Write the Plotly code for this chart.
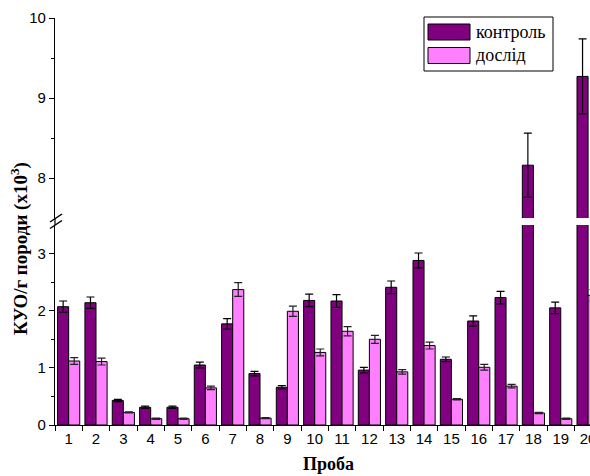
import plotly.graph_objects as go
from plotly.subplots import make_subplots

samples = [str(i) for i in range(1, 21)]
control = [2.07, 2.14, 0.43, 0.31, 0.31, 1.05, 1.77, 0.90, 0.66, 2.18,
           2.17, 0.96, 2.41, 2.88, 1.15, 1.82, 2.23, 8.16, 2.05, 9.27]
control_err = [0.10, 0.10, 0.02, 0.02, 0.02, 0.05, 0.09, 0.04, 0.03, 0.11,
               0.11, 0.05, 0.11, 0.13, 0.04, 0.09, 0.11, 0.40, 0.10, 0.47]
experiment = [1.12, 1.11, 0.22, 0.11, 0.11, 0.65, 2.37, 0.12, 1.99, 1.27,
              1.64, 1.50, 0.93, 1.39, 0.45, 1.01, 0.68, 0.21, 0.11, 2.27]
experiment_err = [0.06, 0.06, 0.01, 0.01, 0.01, 0.03, 0.12, 0.01, 0.09, 0.06,
                  0.08, 0.07, 0.04, 0.06, 0.01, 0.05, 0.03, 0.01, 0.01, 0.10]
series_names = ["контроль", "дослід"]
colors = ["#800080", "#FF80FF"]

W, H = 590, 476
L, R, T, B = 55, 0, 18, 51
PW, PH = W - L - R, H - T - B
PLOT_LEFT, PLOT_BOTTOM = L, H - B


def px2x(px):
    return (px - PLOT_LEFT) / PW


def px2y(py):
    return (PLOT_BOTTOM - py) / PH


fig = make_subplots(rows=2, cols=1, shared_xaxes=True)

for row in (1, 2):
    for vals, errs, name, col, ecol in [
        (control, control_err, series_names[0], colors[0], "#000000"),
        (experiment, experiment_err, series_names[1], colors[1], "#222222"),
    ]:
        fig.add_trace(go.Bar(
            x=samples, y=vals, name=name, showlegend=False,
            marker=dict(color=col, line=dict(color="#000000", width=1)),
            error_y=dict(type="data", array=errs, visible=True, color=ecol,
                         thickness=1.2, width=4),
        ), row=row, col=1)

tickfont = dict(family="Liberation Sans, Arial", size=15, color="#000")
fig.update_layout(
    width=W, height=H, margin=dict(l=L, r=R, t=T, b=B, autoexpand=False),
    plot_bgcolor="white", paper_bgcolor="white",
    barmode="group", bargap=0.19, bargroupgap=0.0,
    showlegend=False,
)
fig.update_layout(
    yaxis=dict(domain=[px2y(218), 1.0], range=[7.5, 10], tickvals=[8, 9, 10],
               ticks="outside", ticklen=5, tickwidth=1, tickcolor="#000",
               showline=True, linecolor="#000", linewidth=1.2, showgrid=False,
               zeroline=False, tickfont=tickfont,
               minor=dict(tickvals=[8.5, 9.5], ticks="outside", ticklen=3,
                          tickcolor="#000", showgrid=False)),
    yaxis2=dict(domain=[0, px2y(225)], range=[0, 3.5], tickvals=[0, 1, 2, 3],
                ticks="outside", ticklen=5, tickwidth=1, tickcolor="#000",
                showline=True, linecolor="#000", linewidth=1.2, showgrid=False,
                zeroline=False, tickfont=tickfont,
                minor=dict(tickvals=[0.5, 1.5, 2.5], ticks="outside", ticklen=3,
                           tickcolor="#000", showgrid=False)),
    xaxis=dict(showline=False, showticklabels=False, ticks="", showgrid=False,
               range=[-0.5, 19.07], type="category"),
    xaxis2=dict(showline=True, linecolor="#000", linewidth=1.2, showgrid=False,
                range=[-0.5, 19.07], type="category", tickson="boundaries",
                ticks="outside", ticklen=5, tickcolor="#000", tickfont=tickfont),
)

# axis continuation through the break and break marks
fig.add_shape(type="line", xref="paper", yref="paper", x0=0, x1=0,
              y0=px2y(218), y1=px2y(225), line=dict(color="#000", width=1.2))
for dy in (0, 6.5):
    fig.add_shape(type="line", xref="paper", yref="paper",
                  x0=px2x(50), y0=px2y(222 + dy), x1=px2x(62), y1=px2y(214 + dy),
                  line=dict(color="#000", width=1.5))

# legend
fig.add_shape(type="rect", xref="paper", yref="paper",
              x0=px2x(424), x1=px2x(553), y0=px2y(71), y1=px2y(17),
              line=dict(color="#000", width=1), fillcolor="white")
for i, (name, col) in enumerate(zip(series_names, colors)):
    yc = 32 + i * 23.5
    fig.add_shape(type="rect", xref="paper", yref="paper",
                  x0=px2x(428), x1=px2x(470), y0=px2y(yc + 8), y1=px2y(yc - 8),
                  line=dict(color="#000", width=1), fillcolor=col)
    fig.add_annotation(text=name, xref="paper", yref="paper", x=px2x(474),
                       y=px2y(yc), xanchor="left", yanchor="middle",
                       showarrow=False,
                       font=dict(family="Liberation Serif, Times New Roman",
                                 size=18, color="#000"))

titlefont = dict(family="Liberation Serif, Times New Roman", size=19, color="#000")
fig.add_annotation(text="<b>Проба</b>", xref="paper", yref="paper",
                   x=px2x(328), y=px2y(475), xanchor="center", yanchor="bottom",
                   showarrow=False, borderpad=0,
                   font=dict(family="Liberation Serif, Times New Roman",
                             size=18, color="#000"))
fig.add_annotation(text="<b>КУО/г породи (x10<sup>3</sup>)</b>", xref="paper",
                   yref="paper", x=px2x(19), y=px2y(249), xanchor="center",
                   yanchor="middle", textangle=-90, showarrow=False,
                   font=titlefont)

fig.write_html(
    "out.html",
    config={"displayModeBar": False},
    post_script="document.body.style.margin='0';"
                "document.body.style.overflow='hidden';",
)
